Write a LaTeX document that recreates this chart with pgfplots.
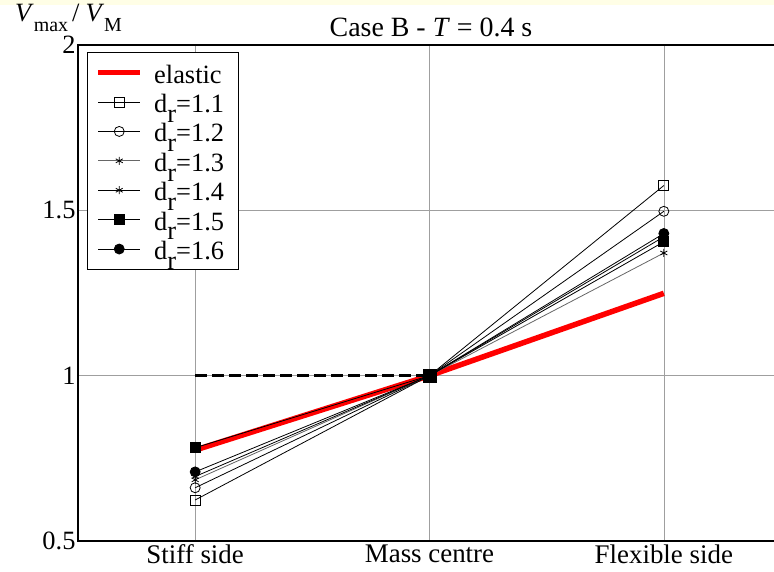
\documentclass[border=0pt]{standalone}
\usepackage{fontspec}
\setmainfont{Liberation Serif}
\usepackage{pgfplots}
\pgfplotsset{compat=1.18}
\newcommand{\dr}[1]{d\raisebox{-0.8ex}{r}=#1\kern5bp}
\begin{document}
\begin{tikzpicture}[x=1bp,y=1bp]
\useasboundingbox (0,0) rectangle (774,572);
\clip (0,0) rectangle (774,572);
\fill[yellow!10] (0,567) rectangle (774,572);
\begin{axis}[
  at={(78bp,31bp)}, anchor=south west,
  scale only axis, width=703bp, height=496bp,
  xmin=-0.5, xmax=2.5, ymin=0.5, ymax=2,
  xtick={0,1,2}, xticklabels={Stiff side, Mass centre, Flexible side},
  ytick={0.5,1,1.5,2}, yticklabels={0.5,1,1.5,2},
  grid=major, grid style={gray!75, line width=0.6bp},
  major tick length=0pt,
  axis line style={line width=1.3bp},
  tick label style={font=\fontsize{27}{27}\selectfont},
  xticklabel style={yshift=0bp},
  yticklabel style={font=\fontsize{26.5}{26.5}\selectfont, xshift=1bp},
  legend cell align=left,
  legend style={at={(rel axis cs:0.0128,0.986)}, anchor=north west,
    draw=black, line width=1bp, font=\fontsize{26.5}{26.5}\selectfont,
    row sep=0pt, inner xsep=8bp, inner ysep=5.5bp,
    nodes={inner sep=1.2bp, text height=24bp, text depth=3bp}},
  legend image code/.code={\draw[mark repeat=2,mark phase=2] plot coordinates {(0bp,0bp) (21bp,0bp) (42bp,0bp)}; \path (52bp,0bp);},
]
\addplot[red, line width=5.5bp] coordinates {(0,0.775) (1,1) (2,1.249)};
\addlegendentry{elastic}
\addplot[black, line width=0.8bp, mark=square, mark size=5bp, mark options={fill=white, line width=0.8bp}] coordinates {(0,0.624) (1,1) (2,1.575)};
\addlegendentry{\dr{1.1}}
\addplot[black, line width=0.8bp, mark=o, mark size=5bp, mark options={fill=white, line width=0.8bp}] coordinates {(0,0.661) (1,1) (2,1.497)};
\addlegendentry{\dr{1.2}}
\addplot[black!60, line width=0.8bp, mark=asterisk, mark size=4bp, mark options={draw=black, line width=0.8bp}] coordinates {(0,0.685) (1,1) (2,1.371)};
\addlegendentry{\dr{1.3}}
\addplot[black, line width=0.8bp, mark=asterisk, mark size=4bp, mark options={line width=0.8bp}] coordinates {(0,0.695) (1,1) (2,1.420)};
\addlegendentry{\dr{1.4}}
\addplot[black, line width=0.8bp, mark=square*, mark size=5bp] coordinates {(0,0.782) (1,1) (2,1.405)};
\addlegendentry{\dr{1.5}}
\addplot[black, line width=0.8bp, mark=*, mark size=5bp] coordinates {(0,0.709) (1,1) (2,1.430)};
\addlegendentry{\dr{1.6}}
\addplot[black, line width=3.5bp, dash pattern=on 12bp off 5bp, forget plot] coordinates {(0,1) (1,1)};
\addplot[black, only marks, mark=square*, mark size=6.5bp, forget plot] coordinates {(1,1)};
\end{axis}
\node[font=\fontsize{28}{28}\selectfont] at (431,545) {Case B - \textit{T} = 0.4 s};
\node[font=\fontsize{26.5}{26.5}\selectfont, anchor=base west, inner sep=0pt] at (15,550) {\textit{V}\raisebox{-10bp}{\fontsize{20}{20}\selectfont max}\kern4bp/\kern6bp\textit{V}\raisebox{-10bp}{\fontsize{20}{20}\selectfont M}};
\end{tikzpicture}
\end{document}
